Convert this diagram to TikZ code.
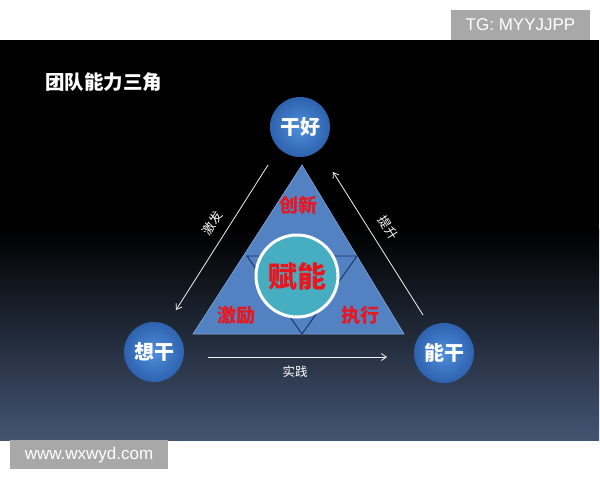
\documentclass[tikz,border=0pt]{standalone}
\usepackage{fontspec}
\setsansfont{Liberation Sans}
\newfontfamily\cjk{Noto Sans CJK SC}
\usetikzlibrary{arrows.meta}
\definecolor{paneltop}{HTML}{000000}
\definecolor{panelbot}{HTML}{435472}
\definecolor{balllight}{HTML}{4F8FDC}
\definecolor{balldark}{HTML}{2E62AE}
\definecolor{trifill}{HTML}{5282C2}
\definecolor{triedge}{HTML}{7FA6D8}
\definecolor{hubfill}{HTML}{47AEC2}
\definecolor{wordred}{HTML}{E8161E}
\definecolor{navy}{HTML}{1C2F63}
\definecolor{markgray}{HTML}{A8A8A8}

\begin{document}
\begin{tikzpicture}[x=1pt,y=-1pt,
    ball/.style={circle,minimum size=60pt,inner sep=0pt,shading=radial,
      inner color=balllight,outer color=balldark,text=white,
      font=\cjk\bfseries\fontsize{20}{20}\selectfont},
    redword/.style={text=wordred,inner sep=0pt,font=\cjk\bfseries\fontsize{19}{19}\selectfont},
    arrowword/.style={text=white,inner sep=0pt,font=\cjk\fontsize{12.5}{12.5}\selectfont},
    flow/.style={draw=white!88!gray,line width=0.8pt,-{Straight Barb[length=5pt,width=7pt]}},
    markbox/.style={fill=markgray,text=white,inner sep=0pt,font=\sffamily\fontsize{17}{17}\selectfont}]
    %%%%% START %%%%%

    \useasboundingbox (0,0) rectangle (600,480);
    \fill[white] (0,0) rectangle (600,480);

    % panel
    \fill[paneltop] (0,40) rectangle (599,230);
    \shade[top color=paneltop,bottom color=panelbot] (0,229) rectangle (599,440);

    % watermarks
    \fill[markgray] (451,10) rectangle (590,40);
    \node[markbox] (tg) at (520.5,25) {TG: MYYJJPP};
    \fill[markgray] (10,440) rectangle (168,469);
    \node[markbox] (site) at (89,455) {www.wxwyd.com};

    % title
    \node[text=white,font=\cjk\bfseries\fontsize{19.5}{19.5}\selectfont,anchor=west,inner sep=0pt] (title) at (45,82) {团队能力三角};

    % triangle
    \coordinate (apex) at (302,165);
    \coordinate (baseL) at (193,334);
    \coordinate (baseR) at (404,334);
    \fill[trifill] (apex) -- (baseL) -- (baseR) -- cycle;
    \draw[triedge,line width=0.6pt] (apex) -- (baseL) -- (baseR) -- cycle;

    \coordinate (invL) at (247,256);
    \coordinate (invR) at (357,256);
    \coordinate (invB) at (302,334);
    \draw[navy,line width=0.9pt] (invL) -- (invR) -- (invB) -- cycle;

    \node[circle,fill=hubfill,draw=white,line width=3pt,minimum size=82pt,inner sep=0pt,
      text=wordred,font=\cjk\bfseries\fontsize{29}{29}\selectfont] (hub) at (297,276) {赋能};

    \node[redword] (innov) at (298,205) {创新};
    \node[redword] (inspire) at (236,315) {激励};
    \node[redword] (execute) at (360,315) {执行};

    % balls
    \node[ball] (dogood) at (300,127) {干好};
    \node[ball] (wantdo) at (154,352) {想干};
    \node[ball] (cando) at (444,353) {能干};

    % arrows
    \coordinate (aTop) at (268,165);
    \coordinate (aLeft) at (176,310);
    \coordinate (bLeft) at (208,357);
    \coordinate (bRight) at (387,357);
    \coordinate (cRight) at (423,315);
    \coordinate (cTop) at (333,172);

    \draw[flow] (aTop) -- (aLeft);
    \draw[flow] (bLeft) -- (bRight);
    \draw[flow] (cRight) -- (cTop);

    \node[arrowword,rotate=57.6] (spark) at (212,223) {激发};
    \node[arrowword] (practice) at (295,372) {实践};
    \node[arrowword,rotate=-57.8] (raise) at (388,228) {提升};

    %%%%% END %%%%%
\end{tikzpicture}
\end{document}
